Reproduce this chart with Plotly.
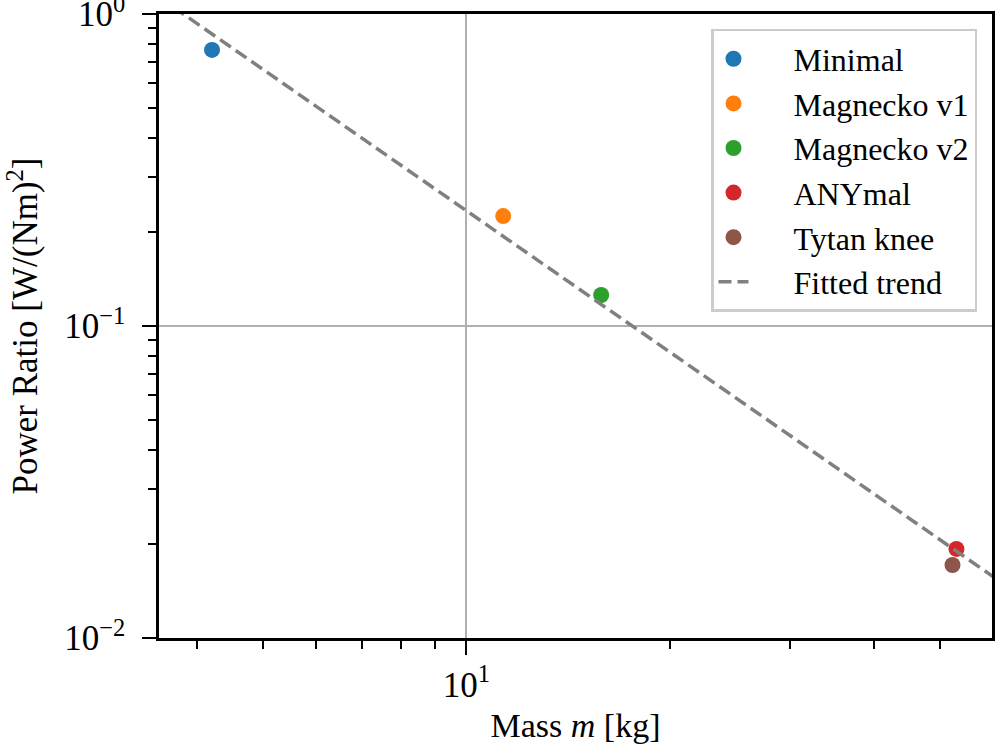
import plotly.graph_objects as go

# robots: mass [kg] vs power ratio [W/(Nm)^2]
names = ["Minimal", "Magnecko v1", "Magnecko v2", "ANYmal", "Tytan knee"]
mass = [4.21, 11.33, 15.81, 52.9, 52.2]
power_ratio = [0.767, 0.225, 0.1257, 0.0193, 0.01714]
colors = ["#1f77b4", "#ff7f0e", "#2ca02c", "#d62728", "#8c564b"]

# fitted power-law trend, endpoints
trend_mass = [3.5, 60.0]
trend_ratio = [1.14, 0.0157]

font = "Liberation Serif, Times New Roman, serif"
pad = "\u00a0" * 5

fig = go.Figure()
for n, m, p, c in zip(names, mass, power_ratio, colors):
    fig.add_trace(go.Scatter(x=[m], y=[p], mode="markers", name=pad + n,
                             marker=dict(color=c, size=16)))

fig.add_trace(go.Scatter(x=trend_mass, y=trend_ratio, mode="lines", name=pad + "Fitted trend",
                         line=dict(color="#808080", width=3.5, dash="13px,6px")))

tickfont = dict(family=font, size=35, color="black")
minor = dict(ticks="outside", ticklen=8, tickwidth=1.5, tickcolor="black",
             showgrid=False, dtick="D1")

fig.update_xaxes(type="log", range=[0.546, 1.776], automargin=False,
                 showline=True, linecolor="black", linewidth=2.5, mirror=True,
                 ticks="outside", ticklen=14, tickwidth=2, tickcolor="black",
                 showgrid=True, gridcolor="#b0b0b0", gridwidth=2, zeroline=False,
                 tickvals=[10], ticktext=["10<sup>1</sup>"], tickfont=tickfont,
                 minor=minor, ticklabeloverflow="allow",
                 title=dict(text="Mass <i>m</i> [kg]",
                            font=dict(family=font, size=34, color="black"), standoff=10))
fig.update_yaxes(type="log", range=[-2, 0], automargin=False,
                 showline=True, linecolor="black", linewidth=2.5, mirror=True,
                 ticks="outside", ticklen=14, tickwidth=2, tickcolor="black",
                 showgrid=True, gridcolor="#b0b0b0", gridwidth=2, zeroline=False,
                 tickvals=[0.01, 0.1, 1],
                 ticktext=["10<sup>\u22122</sup>", "10<sup>\u22121</sup>", "10<sup>0</sup>"],
                 tickfont=tickfont, minor=minor, ticklabeloverflow="allow",
                 ticklabelstandoff=10,
                 title=dict(text="Power Ratio [W/(Nm)<sup>2</sup>]",
                            font=dict(family=font, size=35, color="black"), standoff=16))

fig.update_layout(
    width=996, height=748,
    margin=dict(l=159, r=4, t=14, b=110),
    plot_bgcolor="white", paper_bgcolor="white",
    font=dict(family=font, color="black"),
    showlegend=True,
    legend=dict(x=0.982, y=0.976, xanchor="right", yanchor="top",
                bgcolor="rgba(255,255,255,0.8)", bordercolor="#cccccc", borderwidth=2.5,
                font=dict(family=font, size=32, color="black")),
)

# the page body has a default 8px margin; drop it so the figure sits at (0, 0)
fig.write_html("out.html", config={"displayModeBar": False},
               post_script="document.body.style.margin='0';document.body.style.overflow='hidden';")
